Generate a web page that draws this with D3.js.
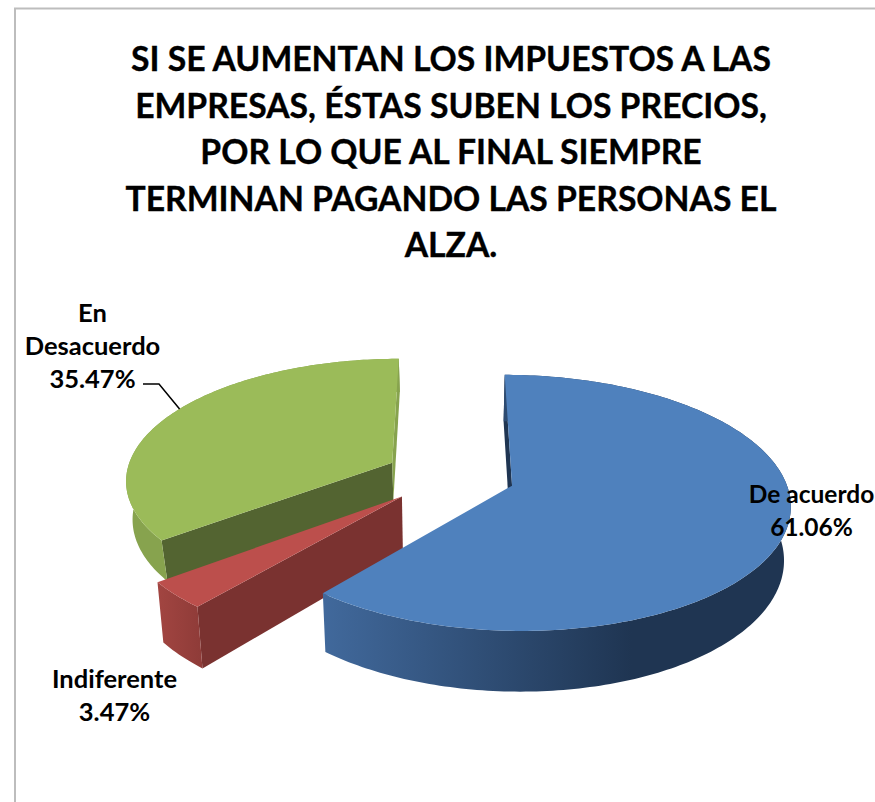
<!DOCTYPE html>
<html>
<head>
<meta charset="utf-8">
<script src="https://cdn.jsdelivr.net/npm/d3@7"></script>
<style>
  html, body { margin: 0; padding: 0; background: #fff; overflow: hidden; }
  text { font-family: Lato, "Open Sans", sans-serif; font-weight: 700; fill: #000; }
</style>
</head>
<body>
<div id="chart"></div>
<script>
const categories = ["De acuerdo", "Indiferente", "En Desacuerdo"];
const percents = [61.06, 3.47, 35.47];
const titleLines = [
    "SI SE AUMENTAN LOS IMPUESTOS A LAS",
    "EMPRESAS, ÉSTAS SUBEN LOS PRECIOS,",
    "POR LO QUE AL FINAL SIEMPRE",
    "TERMINAN PAGANDO LAS PERSONAS EL",
    "ALZA."
];

const topColors = ["#4f81bd", "#bc4f4c", "#9bbb59"];
const sideColors = ["#1f3552", "#7a3230", "#87a34e"];
const cutColors = ["#1f3552", "#7a3230", "#536431"];
const sliceDepths = [52, 54, 38];
const sliceRadii = [1, 1, 0.98];
const labelLines = [["De acuerdo"], ["Indiferente"], ["En", "Desacuerdo"]];
const labelAnchors = [[811.5, 503], [114.5, 688], [92.5, 322]];
const labelSizes = [24.5, 25.5, 25.5];

const width = 875;
const height = 802;

const svg = d3.select("#chart")
    .append("svg")
    .attr("width", width)
    .attr("height", height)
    .style("display", "block");

// chart frame, only top and left show in the crop
svg.append("path")
    .attr("d", "M15,802V8.5H875")
    .attr("fill", "none")
    .attr("stroke", "#bdbdbd")
    .attr("stroke-width", 2);

svg.append("g")
    .selectAll("text")
    .data(titleLines)
    .join("text")
    .attr("x", 451)
    .attr("y", (d, i) => 71 + i * 46.6)
    .attr("text-anchor", "middle")
    .attr("font-size", 33.7)
    .attr("stroke", "#000")
    .attr("stroke-width", 0.35)
    .text(d => d);

// 3d pie: unit radius world coords pushed through a small perspective
const cx = 450, cy = 475.5, radiusX = 272, radiusY = 123;
const perspective = 0.133, explode = 0.24, bottomShrink = 0.98;

const project = (wx, wz, depth) => {
    const f = 1 / (1 + perspective * wz);
    const xf = depth ? f * bottomShrink : f;
    return [cx + wx * radiusX * xf, cy - wz * radiusY * f + (depth || 0) * f];
};

const pie = d3.pie().sort(null).startAngle(0).endAngle(2 * Math.PI);
const arcs = pie(percents);
const line = d3.line();

const defs = svg.append("defs");
const blueWall = defs.append("linearGradient").attr("id", "blue-wall");
blueWall.append("stop").attr("offset", "0%").attr("stop-color", "#41699c");
blueWall.append("stop").attr("offset", "66%").attr("stop-color", "#1f3552");
const redWall = defs.append("linearGradient").attr("id", "red-wall");
redWall.append("stop").attr("offset", "0%").attr("stop-color", "#a24541");
redWall.append("stop").attr("offset", "100%").attr("stop-color", "#8e3b38");

const wallFill = ["url(#blue-wall)", "url(#red-wall)", sideColors[2]];

const slices = arcs.map((a, i) => {
    const mid = (a.startAngle + a.endAngle) / 2;
    const ox = explode * Math.sin(mid);
    const oz = explode * Math.cos(mid);
    const r = sliceRadii[i];
    const rim = (angle, depth) => project(ox + r * Math.sin(angle), oz + r * Math.cos(angle), depth);
    const apex = depth => project(ox, oz, depth);
    const steps = d3.range(a.startAngle, a.endAngle, Math.PI / 180).concat(a.endAngle);
    return { i, a, mid, rim, apex, steps, depth: sliceDepths[i] };
});

// painter order: green at the back, then red, then blue
const drawOrder = [2, 1, 0];

const pieGroup = svg.append("g");
drawOrder.forEach(k => {
    const s = slices[k];
    const g = pieGroup.append("g").attr("class", "slice");
    const rimTop = s.steps.map(t => s.rim(t));
    const rimBottom = s.steps.map(t => s.rim(t, s.depth)).reverse();

    // cut faces, skipped when they turn away from the viewer
    const cutFace = angle => [s.apex(), s.rim(angle), s.rim(angle, s.depth), s.apex(s.depth)];
    const startFace = cutFace(s.a.startAngle);
    const endFace = cutFace(s.a.endAngle);
    if (d3.polygonArea(startFace) > 0) {
        g.append("path").attr("d", line(startFace) + "Z").attr("fill", cutColors[k]);
    }
    if (d3.polygonArea(endFace) < 0) {
        g.append("path").attr("d", line(endFace) + "Z").attr("fill", sideColors[k]);
    }

    g.append("path")
        .attr("d", line(rimTop.concat(rimBottom)) + "Z")
        .attr("fill", wallFill[k]);

    g.append("path")
        .attr("d", line([s.apex()].concat(rimTop)) + "Z")
        .attr("fill", topColors[k]);
});

// leader for the green label
const greenRim = slices[2].rim(slices[2].mid + 3 * Math.PI / 180);
svg.append("path")
    .attr("d", line([[143, 384], [159, 384], greenRim]))
    .attr("fill", "none")
    .attr("stroke", "#000")
    .attr("stroke-width", 1.5);

const labels = svg.append("g")
    .selectAll("text")
    .data(categories)
    .join("text")
    .attr("text-anchor", "middle")
    .attr("font-size", (d, i) => labelSizes[i]);

labels.each(function (d, i) {
    const rows = labelLines[i].concat(d3.format(".2f")(percents[i]) + "%");
    d3.select(this).selectAll("tspan")
        .data(rows)
        .join("tspan")
        .attr("x", labelAnchors[i][0])
        .attr("y", (r, j) => labelAnchors[i][1] + j * 33)
        .text(r => r);
});
</script>
</body>
</html>
